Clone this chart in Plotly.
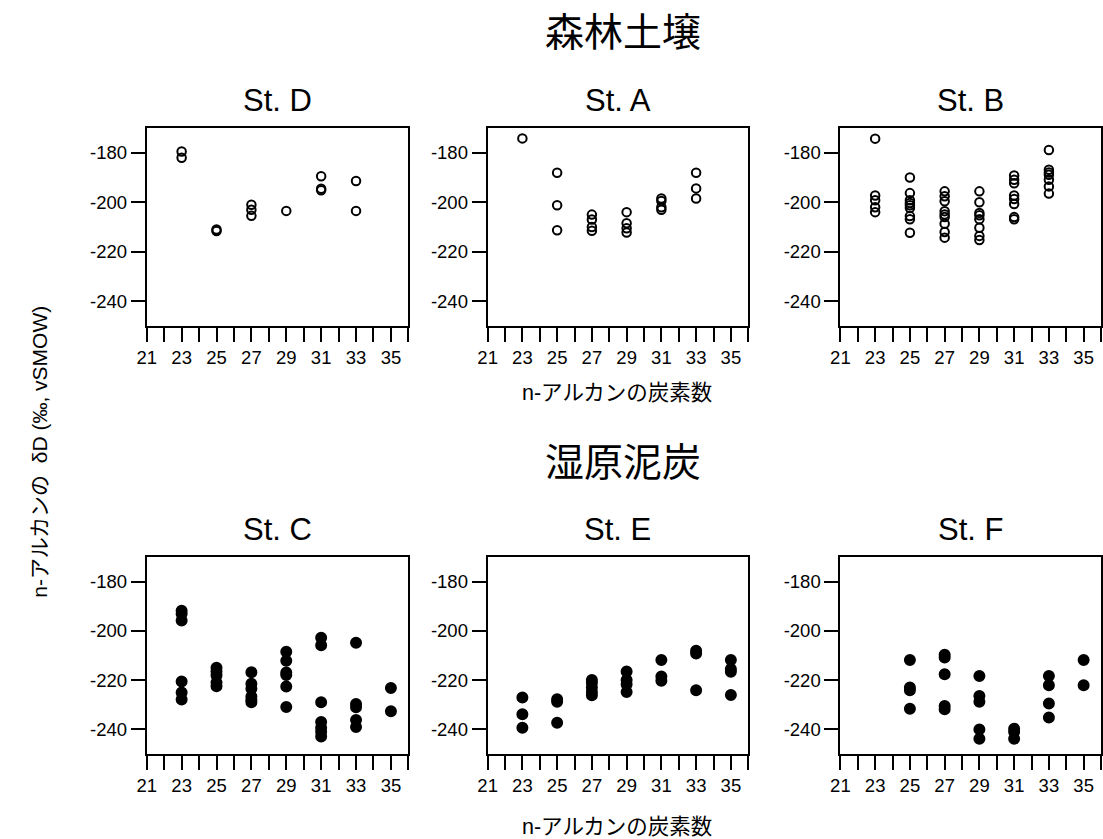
import plotly.graph_objects as go

W, H = 1103, 839
FONT = "Liberation Sans, Arial, Noto Sans CJK JP, sans-serif"

# ---------------- data ----------------
# 森林土壌 (open circles)
stD_x = [23, 23, 25, 25, 27, 27, 27, 29, 31, 31, 31, 33, 33]
stD_y = [-179.5, -182, -211, -211.6, -201, -203, -205.5, -203.5, -189.5, -194.5, -195.2, -191.4, -203.5]

stA_x = [23, 25, 25, 25, 27, 27, 27, 27, 29, 29, 29, 29, 31, 31, 31, 31, 33, 33, 33]
stA_y = [-174.2, -188.1, -201.2, -211.3, -205, -207, -210, -211.5, -204, -208.5, -210.5, -212.2,
         -198.5, -199.5, -202, -203, -188.1, -194.4, -198.5]

stB_x = [23] * 5 + [25] * 9 + [27] * 9 + [29] * 8 + [31] * 8 + [33] * 7
stB_y = [-174.3, -197.3, -199.2, -202, -204,
         -190, -196.3, -199.2, -200.3, -201.2, -202.3, -205.6, -206.9, -212.3,
         -195.6, -197.6, -199.6, -203.6, -204.9, -206, -208.7, -212, -214.3,
         -195.6, -200, -204.3, -205.3, -206.9, -210.3, -213.6, -215.3,
         -189.2, -190.9, -192.3, -197.3, -198.7, -200.7, -206, -206.9,
         -178.9, -186.9, -188, -188.9, -190.9, -193.6, -196.5]

# 湿原泥炭 (filled circles)
stC_x = [23] * 6 + [25] * 5 + [27] * 6 + [29] * 6 + [31] * 7 + [33] * 5 + [35] * 2
stC_y = [-191.8, -193.1, -195.8, -220.6, -225, -227.9,
         -215, -216.5, -218, -221, -222.5,
         -216.8, -221.5, -223.5, -226.6, -228, -229,
         -208.5, -212.1, -216.9, -217.9, -222.6, -230.9,
         -202.8, -205.8, -229, -237, -239.3, -241, -242.9,
         -204.8, -229.7, -231, -236.2, -239,
         -223.2, -232.6]

stE_x = [23] * 3 + [25] * 3 + [27] * 5 + [29] * 4 + [31] * 3 + [33] * 3 + [35] * 4
stE_y = [-227.1, -233.9, -239.3,
         -227.8, -228.8, -237.3,
         -219.9, -221.2, -223, -224.8, -226.1,
         -216.5, -219.9, -221.7, -224.8,
         -211.8, -218.5, -220.3,
         -208.1, -209.2, -224.1,
         -211.8, -215.5, -216.6, -226]

stF_x = [25] * 4 + [27] * 5 + [29] * 5 + [31] * 3 + [33] * 4 + [35] * 2
stF_y = [-211.8, -223, -224.1, -231.6,
         -209.7, -210.8, -217.6, -230.5, -231.8,
         -218.3, -226.4, -228.8, -240, -243.8,
         -239.7, -241.1, -243.8,
         -218.3, -222.1, -229.5, -235.2,
         -211.8, -222.1]

panel_titles = ["St. D", "St. A", "St. B", "St. C", "St. E", "St. F"]
group_titles = ["森林土壌", "湿原泥炭"]
x_title = "n-アルカンの炭素数"
y_title = "n-アルカンの  δD (‰, vSMOW)"

x_tickvals = list(range(21, 37))
x_ticktext = [str(v) if v % 2 == 1 and v <= 35 else "" for v in x_tickvals]
y_tickvals = [-180, -200, -220, -240]
x_range = [21, 36]
y_range = [-250, -170]

series = [(stD_x, stD_y), (stA_x, stA_y), (stB_x, stB_y),
          (stC_x, stC_y), (stE_x, stE_y), (stF_x, stF_y)]

# ---------------- layout geometry (pixels) ----------------
cols_px = [(138, 402), (482, 745), (838, 1101)]
rows_px = [(128, 326), (557, 754)]

fig = go.Figure()
layout = dict(width=W, height=H, margin=dict(l=0, r=0, t=0, b=0),
              paper_bgcolor="white", plot_bgcolor="white", showlegend=False,
              font=dict(family=FONT, color="black", size=18))

annotations = []
for i, (xs, ys) in enumerate(series):
    r, c = divmod(i, 3)
    n = i + 1
    xa = "x" if n == 1 else f"x{n}"
    ya = "y" if n == 1 else f"y{n}"
    filled = r == 1
    fig.add_trace(go.Scatter(
        x=xs, y=ys, mode="markers", xaxis=xa, yaxis=ya,
        marker=dict(symbol="circle" if filled else "circle-open",
                    size=10 if filled else 8.5,
                    color="black",
                    line=dict(color="black", width=2)),
        cliponaxis=False))
    x0, x1 = cols_px[c]
    y0, y1 = rows_px[r]
    axcommon = dict(showline=True, linecolor="black", linewidth=2, mirror=True,
                    ticks="outside", ticklen=14, tickwidth=2, tickcolor="black",
                    showgrid=False, zeroline=False, fixedrange=True,
                    tickfont=dict(family=FONT, size=18.5, color="black"))
    layout["xaxis" if n == 1 else f"xaxis{n}"] = dict(
        domain=[x0 / W, x1 / W], range=x_range, tickmode="array",
        tickvals=x_tickvals, ticktext=x_ticktext, anchor=ya, **axcommon)
    layout["yaxis" if n == 1 else f"yaxis{n}"] = dict(
        domain=[1 - y1 / H, 1 - y0 / H], range=y_range, tickmode="array",
        tickvals=y_tickvals, ticktext=[str(v) for v in y_tickvals], anchor=xa,
        **axcommon)
    annotations.append(dict(text=panel_titles[i], x=(x0 + x1) / 2 / W,
                            y=1 - (y0 - 28) / H, xref="paper", yref="paper",
                            showarrow=False, xanchor="center", yanchor="middle",
                            font=dict(family=FONT, size=31, color="black")))

for r, ypx in enumerate([29, 459]):
    annotations.append(dict(text=group_titles[r], x=619 / W, y=1 - ypx / H,
                            xref="paper", yref="paper", showarrow=False,
                            xanchor="center", yanchor="middle",
                            font=dict(family="Noto Sans CJK JP", size=39, color="black")))

for ypx in [393, 827]:
    annotations.append(dict(text=x_title, x=613 / W, y=1 - ypx / H,
                            xref="paper", yref="paper", showarrow=False,
                            xanchor="center", yanchor="middle",
                            font=dict(family=FONT, size=21.5, color="black")))

annotations.append(dict(text=y_title, x=29 / W, y=1 - 452 / H, xref="paper",
                        yref="paper", showarrow=False, textangle=-90,
                        xanchor="center", yanchor="middle",
                        font=dict(family=FONT, size=21, color="black")))

layout["annotations"] = annotations
fig.update_layout(**layout)
fig.write_html("out.html")
